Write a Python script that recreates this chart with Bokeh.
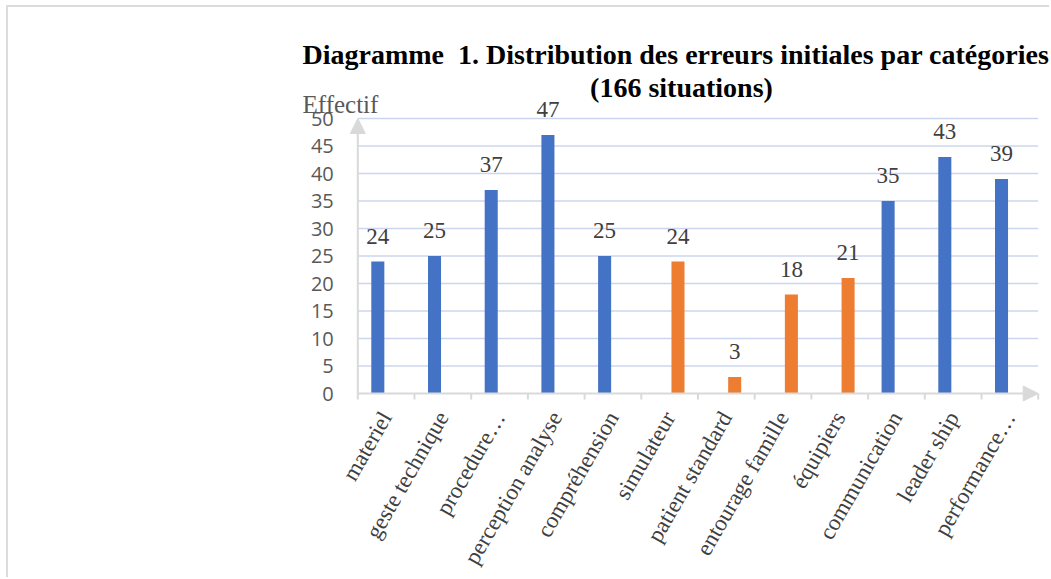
import math
from bokeh.plotting import figure
from bokeh.models import (Range1d, LinearAxis, FixedTicker, Arrow, NormalHead, Label,
                          ColumnDataSource)
from bokeh.core.properties import value
from bokeh.embed import file_html
from bokeh.resources import INLINE

categories = ["materiel", "geste technique", "procedure…", "perception analyse",
              "compréhension", "simulateur", "patient standard", "entourage famille",
              "équipiers", "communication", "leader ship", "performance…"]
counts = [24, 25, 37, 47, 25, 24, 3, 18, 21, 35, 43, 39]
groups = ["a", "a", "a", "a", "a", "b", "b", "b", "b", "a", "a", "a"]
y_ticks = [0, 5, 10, 15, 20, 25, 30, 35, 40, 45, 50]
title_lines = ["Diagramme\u00a0 1. Distribution des erreurs initiales par catégories",
               "(166 situations)"]
y_title = "Effectif"

BLUE = "#4472C4"
ORANGE = "#ED7D31"
GRAY = "#d9d9d9"
colors = [BLUE if g == "a" else ORANGE for g in groups]

n = len(categories)
DODGE = 0.147                                   # clustered-series offset within a slot
centers = [i + 0.5 for i in range(n)]           # category slots on the x scale
bar_x = [c - DODGE if g == "a" else c + DODGE for c, g in zip(centers, groups)]
bounds = [float(i) for i in range(n + 1)]       # category boundaries

src = ColumnDataSource(dict(x=bar_x, val=counts, col=colors,
                            lab=[str(v) for v in counts]))

SX = 56.7   # px per category
SY = 5.5    # px per unit
OX, OY = 8, 7            # canvas origin on the page (margin + border)
W, H = 1051 - OX, 579 - OY
FL, FR, FT, FB = 286, 1051, 28, 401   # frame edges on the page
AX0 = 357.3              # page x of the y axis
AY0 = 393                # page y of the x axis
ml, mr, mt, mb = FL - OX, 1051 - FR, FT - OY, 579 - FB
x_lo = -(AX0 - FL) / SX
y_lo = -(FB - AY0) / SY
p = figure(width=W, height=H,
           x_range=Range1d(x_lo, x_lo + (FR - FL) / SX),
           y_range=Range1d(y_lo, y_lo + (FB - FT) / SY),
           output_backend="svg", toolbar_location=None,
           x_axis_location=None, y_axis_location=None,
           min_border_left=ml, min_border_right=mr, min_border_top=mt, min_border_bottom=mb)
p.outline_line_color = None
p.background_fill_color = "white"
p.border_fill_color = "white"
p.xgrid.visible = False
p.ygrid.visible = False
p.styles = {"margin-left": "6px", "margin-top": "5px",
            "border-left": "2px solid #dcdcdc", "border-top": "2px solid #dcdcdc"}

# y axis anchored at the first category boundary
ya = LinearAxis(ticker=FixedTicker(ticks=y_ticks), fixed_location=0, axis_line_color=None,
                major_tick_line_color=None, minor_tick_line_color=None,
                major_label_standoff=18, major_label_text_font="Open Sans",
                major_label_text_font_size="20px", major_label_text_color="#595959")
p.add_layout(ya, "left")

# category labels
xa = LinearAxis(ticker=FixedTicker(ticks=centers),
                major_label_overrides={c: lab for c, lab in zip(centers, categories)},
                axis_line_color=None, major_tick_line_color=None, minor_tick_line_color=None,
                major_label_orientation=math.pi / 3, major_label_standoff=6,
                major_label_text_font="Liberation Serif", major_label_text_font_size="23px",
                major_label_text_color="#404040")
p.add_layout(xa, "below")

# horizontal gridlines over the category span
grid_y = y_ticks[1:]
p.segment(x0=[bounds[0]] * len(grid_y), x1=[bounds[-1]] * len(grid_y), y0=grid_y, y1=grid_y,
          line_color="#cbd6ee", line_width=1.5)

# boundary tick marks below the x axis
p.segment(x0=bounds, x1=bounds, y0=[0] * len(bounds), y1=[-6 / SY] * len(bounds),
          line_color=GRAY, line_width=2)

p.vbar(x="x", top="val", width=0.23, fill_color="col", line_color=None, source=src)

BASE_FIX = 8.5  # rendered alphabetic baseline sits this much lower than requested
p.text(x="x", y="val", text="lab", source=src, text_align="center",
       text_baseline="alphabetic", y_offset=-(17 + BASE_FIX), text_font=value("Liberation Serif"),
       text_font_size="23px", text_color="#404040")

# axis arrows
p.add_layout(Arrow(end=NormalHead(size=15, fill_color=GRAY, line_color=GRAY),
                   x_start=bounds[0], y_start=0, x_end=bounds[0], y_end=y_ticks[-1],
                   line_color=GRAY, line_width=2))
p.add_layout(Arrow(end=NormalHead(size=15, fill_color=GRAY, line_color=GRAY),
                   x_start=bounds[0], y_start=0, x_end=bounds[-1], y_end=0,
                   line_color=GRAY, line_width=2))


def ypage(py):
    return (AY0 - (py - BASE_FIX)) / SY


def xpage(px):
    return (px - AX0) / SX


# titles
p.add_layout(Label(x=xpage(302), y=ypage(62), text=title_lines[0],
                   text_align="left", text_baseline="alphabetic",
                   text_font="Liberation Serif", text_font_style="bold",
                   text_font_size="28px", text_color="black"))
p.add_layout(Label(x=xpage(681), y=ypage(95), text=title_lines[1],
                   text_align="center", text_baseline="alphabetic",
                   text_font="Liberation Serif", text_font_style="bold",
                   text_font_size="28px", text_color="black"))
p.add_layout(Label(x=xpage(302), y=ypage(112), text=y_title,
                   text_align="left", text_baseline="alphabetic",
                   text_font="Liberation Serif", text_font_size="25px",
                   text_color="#595959"))

open("out.html", "w").write(file_html(p, INLINE))
